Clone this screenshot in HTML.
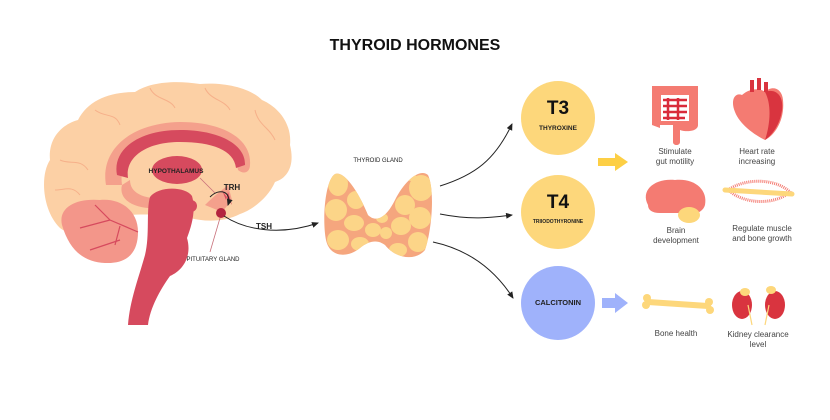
<!DOCTYPE html>
<html><head><meta charset="utf-8"><style>
html,body{margin:0;padding:0;background:#fff}
svg{display:block}
text{font-family:"Liberation Sans",Arial,sans-serif}
</style></head><body>
<svg width="830" height="420" viewBox="0 0 830 420" xmlns="http://www.w3.org/2000/svg">
<defs>
<marker id="ah" markerWidth="8" markerHeight="8" refX="6" refY="3" orient="auto" markerUnits="userSpaceOnUse"><path d="M0,0 L7,3 L0,6 Z" fill="#222"/></marker>
<clipPath id="thc"><path d="M335,174 C345,170 360,195 368,215 C375,222 385,220 395,200 C405,180 420,168 428,175 C435,190 432,230 425,250 C415,262 395,258 385,245 C378,240 370,240 360,248 C348,258 330,258 326,240 C322,220 325,180 335,174 Z"/></clipPath>
</defs>
<text x="415" y="50" text-anchor="middle" font-size="16" font-weight="bold" fill="#111">THYROID HORMONES</text>

<!-- Brain -->
<path d="M60,228 C42,210 40,175 50,160 C48,140 60,125 78,120 C88,100 110,92 135,92 C150,82 175,80 200,84 C225,82 250,88 262,100 C280,108 292,125 290,145 C295,165 288,178 275,182 C268,198 252,210 240,214 C225,222 205,222 190,218 C170,214 120,212 100,220 C85,232 70,236 60,228 Z" fill="#fcd0a5"/>
<g fill="none" stroke="#f6b08a" stroke-width="1">
<path d="M95,110 C105,118 115,112 120,125"/><path d="M150,88 C155,100 170,98 175,108"/><path d="M205,88 C210,100 225,100 230,110"/><path d="M255,110 C258,125 270,128 275,140"/><path d="M60,160 C70,165 80,158 88,170"/><path d="M55,190 C65,190 72,185 80,195"/>
</g>
<!-- cerebellum -->
<path d="M62,225 C58,208 75,198 100,200 C120,198 138,210 138,232 C138,252 128,264 105,263 C85,262 70,252 62,225 Z" fill="#f3968a"/>
<g fill="none" stroke="#d64a5e" stroke-width="1.2"><path d="M138,232 L110,220 L95,205"/><path d="M110,220 L80,228"/><path d="M120,240 L90,250"/><path d="M120,226 L115,245"/></g>
<!-- corpus callosum band -->
<path d="M106,185 C100,150 130,123 180,122 C225,122 252,140 250,165 C250,172 244,175 238,170 C236,148 215,136 180,136 C140,136 118,155 122,185 Z" fill="#f4a08c"/>
<path d="M117,175 C112,150 138,130 180,130 C220,130 246,145 245,165 L236,168 C234,150 212,142 180,142 C145,142 125,158 128,178 Z" fill="#d64a5e"/>
<path d="M122,185 C118,200 135,210 160,208 L175,206 C185,204 190,200 190,200 L170,198 C150,200 130,196 130,180 Z" fill="#f4a08c"/>
<!-- hypothalamus -->
<ellipse cx="177" cy="170" rx="25" ry="14" fill="#d64a5e"/>
<path d="M205,205 C215,195 222,190 228,185 L232,200 L222,212 Z" fill="#f4a08c"/>
<path d="M222,190 L226,200 L228,192 L232,205 Z" fill="#d64a5e"/>
<!-- brainstem -->
<path d="M150,197 C158,186 185,186 192,196 C196,210 192,225 187,238 C192,255 184,270 170,276 C160,290 150,308 148,325 L128,325 C130,300 138,280 145,255 C150,235 146,210 150,197 Z" fill="#d64a5e"/>
<circle cx="191" cy="206" r="6" fill="#d64a5e"/>
<circle cx="221" cy="213" r="5" fill="#b3243f"/>
<!-- labels/lines -->
<line x1="200" y1="178" x2="215" y2="193" stroke="#c8707a" stroke-width="0.8"/>
<line x1="220" y1="218" x2="210" y2="252" stroke="#c8707a" stroke-width="0.8"/>
<text x="176" y="173" text-anchor="middle" font-size="6.5" font-weight="bold" fill="#222">HYPOTHALAMUS</text>
<text x="232" y="190" text-anchor="middle" font-size="8" font-weight="bold" fill="#222">TRH</text>
<text x="213" y="261" text-anchor="middle" font-size="6" fill="#222">PITUITARY GLAND</text>
<path d="M210,197 C220,187 232,192 228,205" fill="none" stroke="#222" stroke-width="1" marker-end="url(#ah)"/>
<path d="M224,216 C245,230 280,236 318,223" fill="none" stroke="#222" stroke-width="1" marker-end="url(#ah)"/>
<text x="264" y="229" text-anchor="middle" font-size="8" font-weight="bold" fill="#222">TSH</text>

<!-- thyroid -->
<text x="378" y="162" text-anchor="middle" font-size="6" fill="#222">THYROID GLAND</text>
<g clip-path="url(#thc)">
<rect x="320" y="165" width="115" height="100" fill="#f5a67e"/>
<g fill="#fcd588">
<ellipse cx="338" cy="184" rx="10" ry="12"/><ellipse cx="336" cy="210" rx="11" ry="11"/><ellipse cx="356" cy="200" rx="9" ry="9"/><ellipse cx="354" cy="223" rx="10" ry="8"/><ellipse cx="338" cy="240" rx="11" ry="10"/><ellipse cx="360" cy="244" rx="9" ry="7"/><ellipse cx="373" cy="230" rx="8" ry="7"/><ellipse cx="386" cy="233" rx="6" ry="6"/><ellipse cx="401" cy="226" rx="10" ry="9"/><ellipse cx="420" cy="218" rx="11" ry="11"/><ellipse cx="421" cy="188" rx="12" ry="13"/><ellipse cx="405" cy="205" rx="10" ry="10"/><ellipse cx="418" cy="242" rx="10" ry="10"/><ellipse cx="398" cy="250" rx="9" ry="7"/><ellipse cx="410" cy="176" rx="6" ry="5"/><ellipse cx="382" cy="218" rx="6" ry="5"/>
</g></g>
<!-- arrows to circles -->
<path d="M440,186 C475,175 495,160 512,124" fill="none" stroke="#222" stroke-width="1" marker-end="url(#ah)"/>
<path d="M440,214 C470,220 490,218 512,215" fill="none" stroke="#222" stroke-width="1" marker-end="url(#ah)"/>
<path d="M433,242 C470,250 495,270 513,298" fill="none" stroke="#222" stroke-width="1" marker-end="url(#ah)"/>
<!-- circles -->
<circle cx="558" cy="118" r="37" fill="#fdd77b"/>
<text x="558" y="114" text-anchor="middle" font-size="19" font-weight="bold" fill="#111">T3</text>
<text x="558" y="130" text-anchor="middle" font-size="6.5" font-weight="bold" fill="#222">THYROXINE</text>
<circle cx="558" cy="212" r="37" fill="#fdd77b"/>
<text x="558" y="208" text-anchor="middle" font-size="19" font-weight="bold" fill="#111">T4</text>
<text x="558" y="223" text-anchor="middle" font-size="5" font-weight="bold" fill="#222">TRIIODOTHYRONINE</text>
<circle cx="558" cy="303" r="37" fill="#9fb2fb"/>
<text x="558" y="305" text-anchor="middle" font-size="7.5" font-weight="bold" fill="#222">CALCITONIN</text>
<!-- fat arrows -->
<path d="M598,158 L615,158 L615,153 L628,162 L615,171 L615,166 L598,166 Z" fill="#fdcf45"/>
<path d="M602,298 L615,298 L615,293 L628,303 L615,313 L615,308 L602,308 Z" fill="#9fb2fb"/>

<!-- gut -->
<path d="M652,86 L698,86 L698,125 C698,132 685,132 680,130 L680,142 C680,146 673,146 673,142 L673,125 L660,125 L660,128 L652,125 Z" fill="#f47b72"/>
<rect x="661" y="95" width="28" height="26" fill="#fff"/>
<path d="M663,100 L687,100 M663,106 L687,106 M663,112 L687,112 M663,118 L685,118 M668,98 L668,120 M678,98 L678,120" stroke="#d92b3b" stroke-width="2.5" fill="none"/>
<!-- heart -->
<path d="M742,95 C735,92 730,100 735,112 C740,125 755,135 765,140 C775,135 785,120 783,100 C782,88 772,85 765,92 C760,88 750,88 742,95 Z" fill="#f47b72"/>
<path d="M765,92 C775,88 784,95 782,110 C780,125 772,135 765,140 C770,125 772,105 765,92 Z" fill="#d9343f"/>
<rect x="750" y="80" width="4" height="12" fill="#d9343f"/><rect x="757" y="78" width="4" height="12" fill="#d9343f"/><rect x="764" y="82" width="4" height="10" fill="#d9343f"/>
<!-- brain icon -->
<path d="M648,205 C640,190 655,178 675,180 C695,178 708,190 705,205 C703,212 695,215 690,213 L660,213 C652,213 648,210 648,205 Z" fill="#f47b72"/>
<ellipse cx="689" cy="215" rx="11" ry="8" fill="#fdd77b"/>
<!-- muscle -->
<path d="M728,190 C745,178 775,178 790,192 C775,205 745,205 728,190 Z" fill="none" stroke="#f47b72" stroke-width="3" stroke-dasharray="1 1"/>
<path d="M725,190 L792,194" stroke="#fdd77b" stroke-width="5" stroke-linecap="round"/>
<!-- bone -->
<path d="M648,302 L708,306" stroke="#fdd77b" stroke-width="6" stroke-linecap="round"/>
<circle cx="647" cy="298" r="4" fill="#fdd77b"/><circle cx="646" cy="305" r="4" fill="#fdd77b"/><circle cx="709" cy="302" r="4" fill="#fdd77b"/><circle cx="710" cy="310" r="4" fill="#fdd77b"/>
<!-- kidneys -->
<ellipse cx="742" cy="305" rx="10" ry="14" fill="#d9343f"/><ellipse cx="775" cy="305" rx="10" ry="14" fill="#d9343f"/>
<ellipse cx="745" cy="292" rx="5" ry="4" fill="#fdd77b"/><ellipse cx="771" cy="290" rx="5" ry="4" fill="#fdd77b"/>
<path d="M748,305 L752,325 M769,305 L765,325" stroke="#fdd77b" stroke-width="1.2"/>

<g font-size="8" fill="#444" text-anchor="middle">
<text x="675" y="154">Stimulate</text><text x="675" y="164">gut motility</text>
<text x="757" y="154">Heart rate</text><text x="757" y="164">increasing</text>
<text x="676" y="233">Brain</text><text x="676" y="243">development</text>
<text x="762" y="231">Regulate muscle</text><text x="762" y="241">and bone growth</text>
<text x="676" y="336">Bone health</text>
<text x="758" y="337">Kidney clearance</text><text x="758" y="347">level</text>
</g>
</svg>
</body></html>
